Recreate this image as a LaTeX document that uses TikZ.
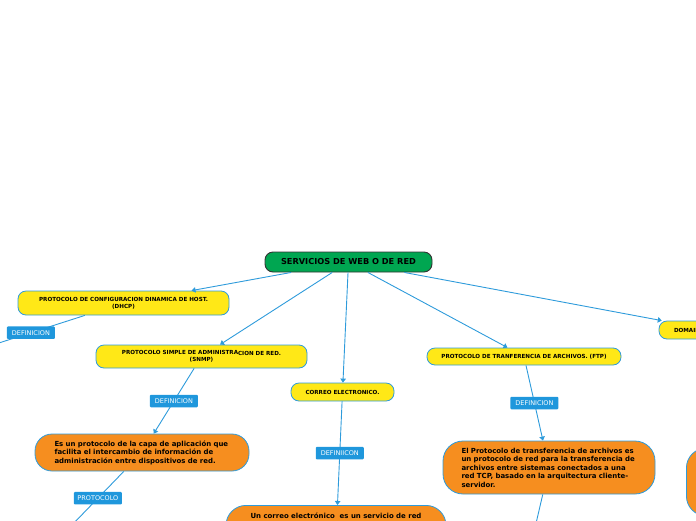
\documentclass[tikz,border=0pt]{standalone}
\usepackage{fontspec}
\setmainfont{DejaVu Sans}
\usetikzlibrary{arrows.meta}
\definecolor{rootgreen}{HTML}{00A651}
\definecolor{boxyellow}{HTML}{FFE817}
\definecolor{edgeblue}{HTML}{2E9BDB}
\definecolor{lblblue}{HTML}{1F97DC}
\definecolor{boxorange}{HTML}{F68E1F}
\tikzset{
  rootbox/.style={draw=black!80, line width=0.9pt, fill=rootgreen, rounded corners=8pt,
    minimum width=167pt, minimum height=20pt, inner sep=0pt,
    font=\fontsize{8.2}{9}\selectfont\bfseries},
  ybox/.style={draw=edgeblue, line width=0.8pt, fill=boxyellow, rounded corners=8pt,
    inner sep=0pt, align=center, font=\fontsize{5.6}{6.6}\selectfont\bfseries},
  obox/.style={draw=edgeblue, line width=0.8pt, fill=boxorange, rounded corners=17pt,
    inner sep=0pt, align=left, font=\fontsize{6.95}{8.5}\selectfont\bfseries},
  lbl/.style={fill=lblblue, text=white, rounded corners=1pt, inner sep=0pt,
    minimum width=48pt, minimum height=12.5pt, font=\fontsize{6.5}{7}\selectfont},
  conn/.style={draw=edgeblue, line width=0.9pt},
  arr/.style={conn, -{Triangle[width=5.5pt,length=4pt]}},
}
\begin{document}
\begin{tikzpicture}[x=1pt,y=-1pt]
\useasboundingbox (0,0) rectangle (696,520);

% main node
\node[rootbox] (root) at (348.5,262) {SERVICIOS DE WEB O DE RED};

% first level
\node[ybox, minimum width=211pt, minimum height=24pt] (dhcp) at (123.5,303)
  {PROTOCOLO DE CONFIGURACION DINAMICA DE HOST.\\(DHCP)};
\node[ybox, minimum width=211pt, minimum height=23pt] (snmp) at (201.5,356.5)
  {PROTOCOLO SIMPLE DE ADMINISTRA\raisebox{-0.8pt}{CION DE RED.}\\(SNMP)};
\node[ybox, minimum width=103pt, minimum height=18pt] (correo) at (342.5,392)
  {CORREO ELECTRONICO.};
\node[ybox, minimum width=106pt, minimum height=18pt, text width=76pt, align=left] (dns) at (712,330)
  {DOMAIN};
\node[ybox, minimum width=194pt, minimum height=17pt] (ftp) at (524,356.5)
  {PROTOCOLO DE TRANFERENCIA DE ARCHIVOS. (FTP)};

% second level
\node[obox, minimum width=214pt, minimum height=37pt, text width=175pt] (snmpdef) at (142,452.5)
  {Es un protocolo de la capa de aplicación que\\facilita el intercambio de información de\\administración entre dispositivos de red.};
\node[obox, minimum width=212pt, minimum height=53pt, text width=175pt, rounded corners=20pt] (ftpdef) at (549,467.5)
  {El Protocolo de transferencia de archivos es\\un protocolo de red para la transferencia de\\archivos entre sistemas conectados a una\\red TCP, basado en la arquitectura cliente-\\servidor.};
\node[obox, minimum width=220pt, align=center, anchor=north, inner ysep=7pt,
  text height=6pt, text depth=45pt, rounded corners=20pt] (correodef) at (336,505)
  {Un correo electrónico\ \ es un servicio de red};
\node[obox, minimum width=100pt, minimum height=68pt, anchor=west, rounded corners=20pt] (rightdef) at (686,482) {};

% free ends
\coordinate (dhcpend) at (-23,350);
\coordinate (protend) at (72,525);
\coordinate (ftpend) at (531,545);

% connectors
\draw[arr] (root) -- (dhcp);
\draw[arr] (root) -- (snmp);
\draw[arr] (root) -- (correo);
\draw[arr] (root) -- (ftp);
\draw[arr] (root) -- (dns);
\draw[conn] (dhcp) -- node[lbl]{DEFINICION} (dhcpend);
\draw[arr] (snmp) -- node[lbl]{DEFINICION} (snmpdef);
\draw[arr] (correo) -- node[lbl]{DEFINIICON} (correodef);
\draw[arr] (ftp) -- node[lbl]{DEFINICION} (ftpdef);
\draw[conn] (snmpdef) -- node[lbl]{PROTOCOLO} (protend);
\draw[conn] (ftpdef) -- (ftpend);
\end{tikzpicture}
\end{document}
